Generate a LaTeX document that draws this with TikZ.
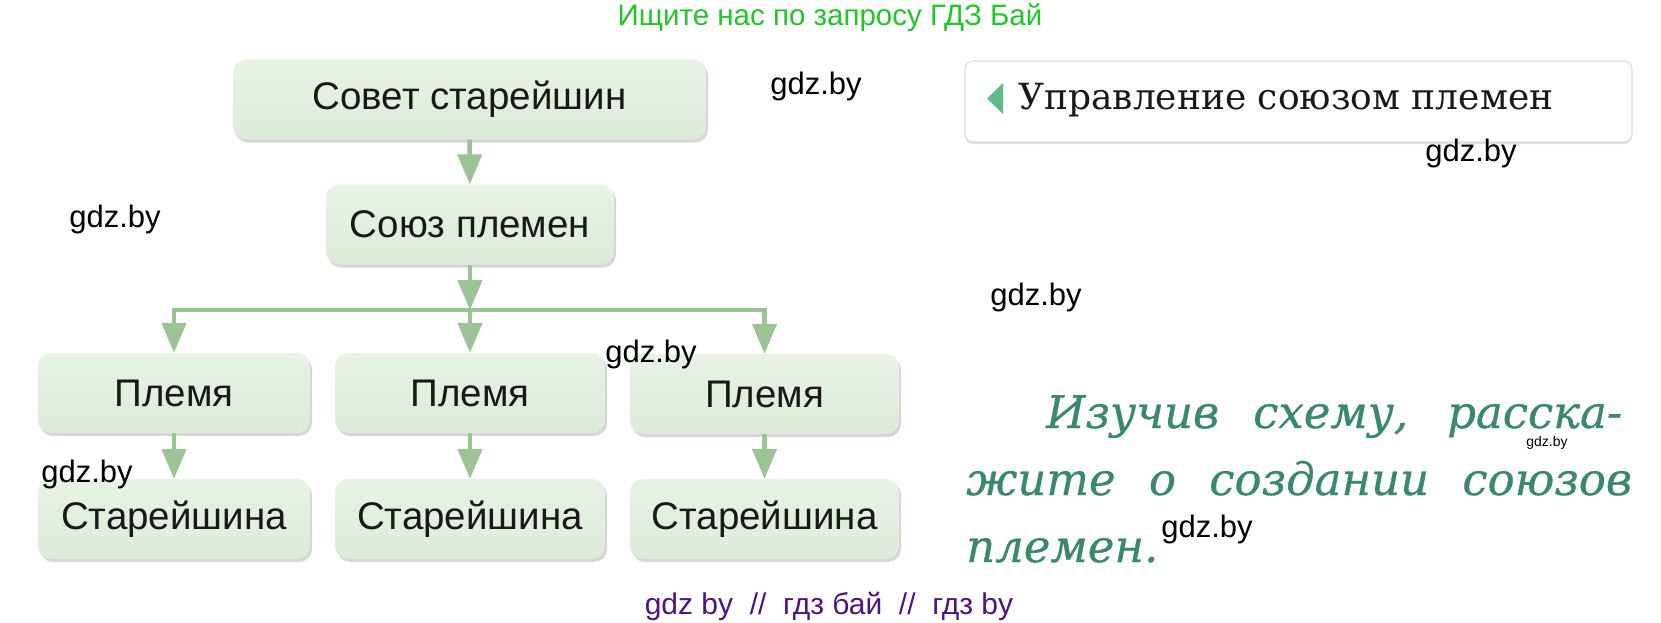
\documentclass[tikz,border=0pt]{standalone}
\usepackage{fontspec}
\setmainfont{Liberation Sans}
\newfontfamily\boxfont{Liberation Sans}
\newfontfamily\serifhead{DejaVu Serif}
\newfontfamily\serifital[FakeBold=0.6]{DejaVu Serif Italic}
\newfontfamily\wmfont{Liberation Sans}
\usetikzlibrary{arrows.meta,shadows}
\definecolor{boxtop}{RGB}{232,243,230}
\definecolor{boxbot}{RGB}{220,236,216}
\definecolor{arrowgreen}{RGB}{155,195,148}
\definecolor{textdark}{RGB}{25,25,25}
\definecolor{italgreen}{RGB}{58,138,103}
\definecolor{trigreen}{RGB}{95,187,138}
\definecolor{topgreen}{RGB}{30,200,40}
\definecolor{botpurple}{RGB}{80,20,130}
\definecolor{boxborder}{RGB}{222,222,222}
\tikzset{
  gbox/.style={rectangle, rounded corners=13pt, inner sep=0pt, minimum height=80pt,
    top color=boxtop, bottom color=boxbot, draw=none,
    drop shadow={shadow xshift=2pt, shadow yshift=-3pt, opacity=0.22, fill=black!70},
    font=\boxfont\fontsize{38.5}{44}\selectfont, text=textdark},
  garrow/.style={line width=4.5pt, draw=arrowgreen, -{Triangle[width=24pt,length=30pt]}},
  gline/.style={line width=4.5pt, draw=arrowgreen},
  wm/.style={font=\wmfont\fontsize{31}{34}\selectfont, text=black, inner sep=0pt},
  ital/.style={anchor=base west, font=\serifital\fontsize{45}{50}\selectfont, text=italgreen, inner sep=0pt},
}
\begin{document}
\begin{tikzpicture}[x=1pt,y=-1pt]
\useasboundingbox[fill=white] (0,0) rectangle (1661,623);
% top and bottom banners
\node[font=\wmfont\fontsize{29.5}{32}\selectfont, text=topgreen, inner sep=0pt] (topbanner) at (830,18) {Ищите нас по запросу ГДЗ Бай};
\node[font=\wmfont\fontsize{30}{32}\selectfont, text=botpurple, inner sep=0pt] (botbanner) at (829,606) {gdz by \ // \ гдз бай \ // \ гдз by};
% diagram boxes
\node[gbox, minimum width=473pt] (sovet) at (469.5,99.5) {Совет старейшин};
\node[gbox, minimum width=288pt] (soyuz) at (470,224.5) {Союз племен};
\node[gbox, minimum width=272pt] (pl1) at (174,393) {Племя};
\node[gbox, minimum width=270pt] (pl2) at (470,393) {Племя};
\node[gbox, minimum width=269pt] (pl3) at (764.5,394) {Племя};
\node[gbox, minimum width=272pt] (st1) at (174,519) {Старейшина};
\node[gbox, minimum width=270pt] (st2) at (470,519) {Старейшина};
\node[gbox, minimum width=269pt] (st3) at (764.5,519) {Старейшина};
% connectors
\coordinate (bm) at (470,310);
\coordinate (bl) at (174,310);
\coordinate (br) at (764.5,310);
\draw[garrow] (sovet) -- (soyuz);
\draw[garrow] (soyuz) -- (bm);
\draw[gline] ([xshift=-2.25pt]bl) -- ([xshift=2.25pt]br);
\draw[garrow] (bl) -- (pl1);
\draw[garrow] (bm) -- (pl2);
\draw[garrow] (br) -- (pl3);
\draw[garrow] (pl1) -- (st1);
\draw[garrow] (pl2) -- (st2);
\draw[garrow] (pl3) -- (st3);
% right header box
\node[rectangle, rounded corners=8pt, draw=boxborder, line width=1.2pt, fill=white,
  drop shadow={shadow xshift=0pt, shadow yshift=-2pt, opacity=0.12, fill=black},
  minimum width=667pt, minimum height=81pt, inner sep=0pt] (hbox) at (1298.5,101.5) {};
\fill[trigreen] (1003,83) -- (1003,114) -- (987,98.5) -- cycle;
\node[anchor=base west, font=\serifhead\fontsize{36}{40}\selectfont, text=textdark, inner sep=0pt] (htext) at (1018,110) {Управление союзом племен};
% italic task text
\node[ital] (l1) at (1046,428) {\makebox[576pt][s]{Изучив схему, расска-}};
\node[ital] (l2) at (966,495) {\makebox[666pt][s]{жите о создании союзов}};
\node[ital] (l3) at (966,562) {племен.};
% watermarks
\node[wm] (w1) at (816,86) {gdz.by};
\node[wm] (w2) at (1471,153) {gdz.by};
\node[wm] (w3) at (115,219) {gdz.by};
\node[wm] (w4) at (1036,297) {gdz.by};
\node[wm] (w5) at (651,354) {gdz.by};
\node[wm] (w6) at (87,474) {gdz.by};
\node[wm] (w7) at (1207,529) {gdz.by};
\node[wm, font=\wmfont\fontsize{14}{16}\selectfont] (w8) at (1547,443) {gdz.by};
\end{tikzpicture}
\end{document}
